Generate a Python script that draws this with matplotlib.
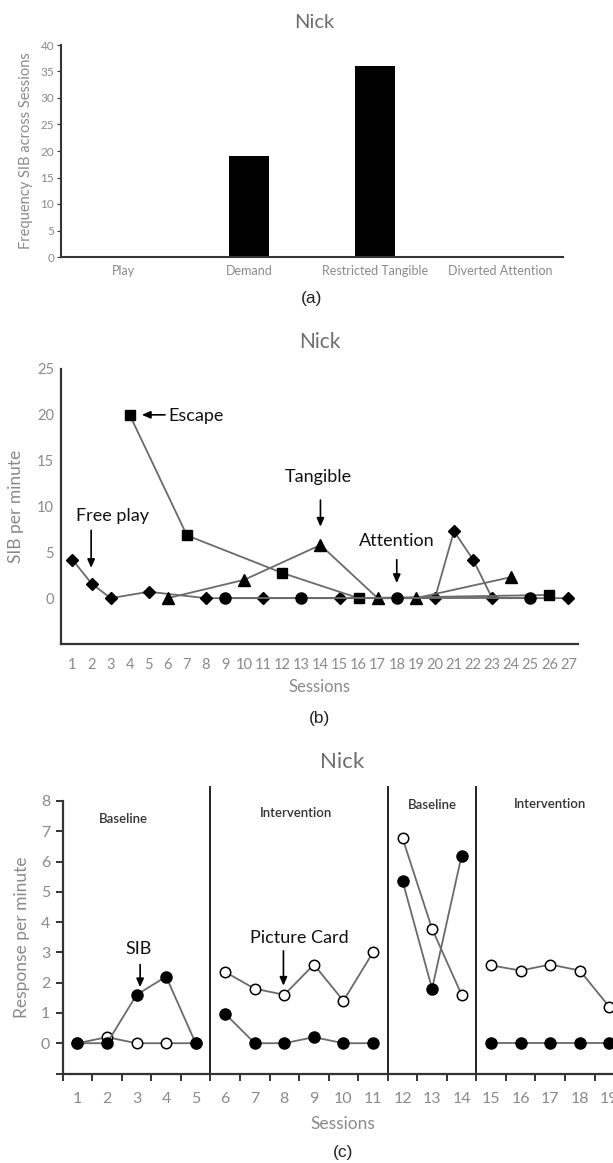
import matplotlib
matplotlib.use("Agg")
import matplotlib.pyplot as plt

# ---------------- data ----------------
# Panel (a)
cond_labels = ["Play", "Demand", "Restricted Tangible", "Diverted Attention"]
cond_freq = [0, 19, 36, 0]

# Panel (b)
b_sessions = list(range(1, 28))
free_x = [1, 2, 3, 5, 8, 11, 15, 20, 21, 22, 23, 27]
free_y = [4.2, 1.6, 0, 0.7, 0, 0, 0, 0, 7.3, 4.2, 0, 0]
escape_x = [4, 7, 12, 16, 26]
escape_y = [20, 6.85, 2.75, 0, 0.35]
tang_x = [6, 10, 14, 17, 19, 24]
tang_y = [0, 2.0, 5.8, 0, 0, 2.3]
att_x = [9, 13, 18, 25]
att_y = [0, 0, 0, 0]

# Panel (c)
c_sessions = list(range(1, 20))
phase_sessions = [[1, 2, 3, 4, 5], [6, 7, 8, 9, 10, 11], [12, 13, 14], [15, 16, 17, 18, 19]]
sib_phase = [[0, 0, 1.6, 2.2, 0], [0.97, 0, 0, 0.2, 0, 0], [5.36, 1.8, 6.2], [0, 0, 0, 0, 0]]
card_phase = [[0, 0.2, 0, 0, 0], [2.35, 1.8, 1.6, 2.6, 1.4, 3.0], [6.77, 3.78, 1.6], [2.57, 2.4, 2.6, 2.4, 1.2]]
phase_names = ["Baseline", "Intervention", "Baseline", "Intervention"]
phase_bounds = [5.5, 11.5, 14.5]

# ---------------- styling ----------------
W, H = 613, 1163
fig = plt.figure(figsize=(W / 100, H / 100), dpi=100)
FONT = ["Lato", "DejaVu Sans"]
plt.rcParams['font.family'] = FONT
GRAY_TXT = "#8a8a8a"
TITLE_C = "#6e6e6e"
LINE_C = "#6a6a6a"
SPINE_C = "#333333"


def ax_at(l, r, top, bottom):
    return fig.add_axes([l / W, 1 - bottom / H, (r - l) / W, (bottom - top) / H])


def style(ax, lw=1.6):
    for s in ["top", "right"]:
        ax.spines[s].set_visible(False)
    for s in ["left", "bottom"]:
        ax.spines[s].set_color(SPINE_C)
        ax.spines[s].set_linewidth(lw)


# ---------------- Panel (a) ----------------
ax1 = ax_at(61, 563, 45, 257)
style(ax1, 1.5)
xa = list(range(len(cond_labels)))
ax1.bar(xa, cond_freq, width=0.32, color="black")
ax1.set_xlim(-0.5, 3.5)
ax1.set_ylim(0, 40)
ax1.set_yticks(range(0, 41, 5))
ax1.set_xticks(xa)
ax1.set_xticklabels(cond_labels)
ax1.tick_params(axis="y", length=3, color=SPINE_C, labelsize=8.5, labelcolor=GRAY_TXT, pad=2)
ax1.tick_params(axis="x", length=0, labelsize=9, labelcolor=GRAY_TXT, pad=6)
ax1.set_ylabel("Frequency SIB across Sessions", fontsize=10.5, color=GRAY_TXT, labelpad=5)
fig.text(314 / W, 1 - 22 / H, "Nick", ha="center", va="center", fontsize=14.5, color=TITLE_C)
fig.text(312 / W, 1 - 298 / H, "(a)", ha="center", va="center", fontsize=12.5,
         family=["Liberation Sans", "DejaVu Sans"], color="#222222")

# ---------------- Panel (b) ----------------
ax2 = ax_at(61, 578, 369, 644)
style(ax2, 1.6)
mk = dict(color=LINE_C, lw=1.3, markerfacecolor="black", markeredgecolor="black")
ax2.plot(free_x, free_y, marker="D", ms=6, **mk, zorder=3)
ax2.plot(escape_x, escape_y, marker="s", ms=7.5, **mk, zorder=3)
ax2.plot(tang_x, tang_y, marker="^", ms=8, **mk, zorder=3)
ax2.plot(att_x, att_y, marker="o", ms=8, **mk, zorder=3)
ax2.set_xlim(0.4, 27.5)
ax2.set_ylim(-5, 25)
ax2.set_yticks(range(0, 26, 5))
ax2.set_xticks(b_sessions)
ax2.tick_params(axis="both", length=0, labelsize=10.5, labelcolor=GRAY_TXT)
ax2.tick_params(axis="x", pad=10)
ax2.tick_params(axis="y", pad=5)
ax2.set_xlabel("Sessions", fontsize=12, color=GRAY_TXT, labelpad=5)
ax2.set_ylabel("SIB per minute", fontsize=12.5, color=GRAY_TXT, labelpad=9)
arrow = dict(arrowstyle="-|>,head_length=0.5,head_width=0.22", color="black", lw=1.2,
             shrinkA=0, shrinkB=0)
ax2.annotate("", xy=(4.64, 20), xytext=(5.85, 20), arrowprops=arrow)
ax2.text(6.05, 19.9, "Escape", ha="left", va="center", fontsize=13, color="#111111")
ax2.annotate("", xy=(1.98, 3.3), xytext=(1.98, 7.4), arrowprops=arrow)
ax2.text(3.12, 9.0, "Free play", ha="center", va="center", fontsize=13, color="#111111")
ax2.annotate("", xy=(14.0, 7.8), xytext=(14.0, 10.7), arrowprops=arrow)
ax2.text(13.9, 13.2, "Tangible", ha="center", va="center", fontsize=13, color="#111111")
ax2.annotate("", xy=(18.0, 1.65), xytext=(18.0, 4.2), arrowprops=arrow)
ax2.text(18.0, 6.2, "Attention", ha="center", va="center", fontsize=13, color="#111111")
fig.text(320 / W, 1 - 342 / H, "Nick", ha="center", va="center", fontsize=15, color=TITLE_C)
fig.text(319 / W, 1 - 719 / H, "(b)", ha="center", va="center", fontsize=12.5,
         family=["Liberation Sans", "DejaVu Sans"], color="#222222")

# ---------------- Panel (c) ----------------
ax3 = ax_at(62.7, 62.7 + 19 * 29.55, 801, 1073.5)
style(ax3, 1.6)
for xs, ys_card, ys_sib in zip(phase_sessions, card_phase, sib_phase):
    ax3.plot(xs, ys_card, marker="o", ms=7.5, color=LINE_C, lw=1.3, markerfacecolor="white",
             markeredgecolor="black", markeredgewidth=1.1, zorder=3)
    ax3.plot(xs, ys_sib, marker="o", ms=8, color=LINE_C, lw=1.3, markerfacecolor="black",
             markeredgecolor="black", zorder=4)
for xb in phase_bounds:
    ax3.plot([xb, xb], [-1, 8.46], color="#222222", lw=1.4, clip_on=False, zorder=2)
ax3.set_xlim(0.5, 19.5)
ax3.set_ylim(-1, 8)
ax3.set_yticks(range(-1, 9))
ax3.set_yticklabels([""] + [str(v) for v in range(0, 9)])
ax3.set_xticks([s - 0.5 for s in c_sessions] + [19.5])
ax3.set_xticklabels([])
ax3.set_xticks(c_sessions, minor=True)
ax3.set_xticklabels([str(s) for s in c_sessions], minor=True)
ax3.tick_params(axis="x", which="major", length=5, width=1.4, color=SPINE_C, direction="out")
ax3.tick_params(axis="x", which="minor", length=0, labelsize=11.5, labelcolor=GRAY_TXT, pad=13)
ax3.tick_params(axis="y", length=5, width=1.4, color=SPINE_C, labelsize=11.5, labelcolor=GRAY_TXT, pad=4)
ax3.set_xlabel("Sessions", fontsize=12.5, color=GRAY_TXT)
ax3.xaxis.set_label_coords((343 - 62.7) / (19 * 29.55), -(1116 - 1073.5) / (1073.5 - 801))
ax3.set_ylabel("Response per minute", fontsize=12.5, color=GRAY_TXT, labelpad=8)
for name, xp, yp in zip(phase_names, [2.55, 8.38, 13.0, 17.0], [7.42, 7.62, 7.86, 7.91]):
    ax3.text(xp, yp, name, ha="center", va="center", fontsize=9.5, color="#333333", fontweight="semibold")
ax3.annotate("", xy=(3.12, 1.85), xytext=(3.12, 2.6), arrowprops=arrow)
ax3.text(3.05, 3.1, "SIB", ha="center", va="center", fontsize=13, color="#111111")
ax3.annotate("", xy=(7.97, 1.9), xytext=(7.97, 3.05), arrowprops=arrow)
ax3.text(8.5, 3.46, "Picture Card", ha="center", va="center", fontsize=13, color="#111111")
fig.text(342 / W, 1 - 762 / H, "Nick", ha="center", va="center", fontsize=16, color=TITLE_C)
fig.text(343 / W, 1 - 1152 / H, "(c)", ha="center", va="center", fontsize=12.5,
         family=["Liberation Sans", "DejaVu Sans"], color="#222222")

fig.savefig("out.png", dpi=100)
